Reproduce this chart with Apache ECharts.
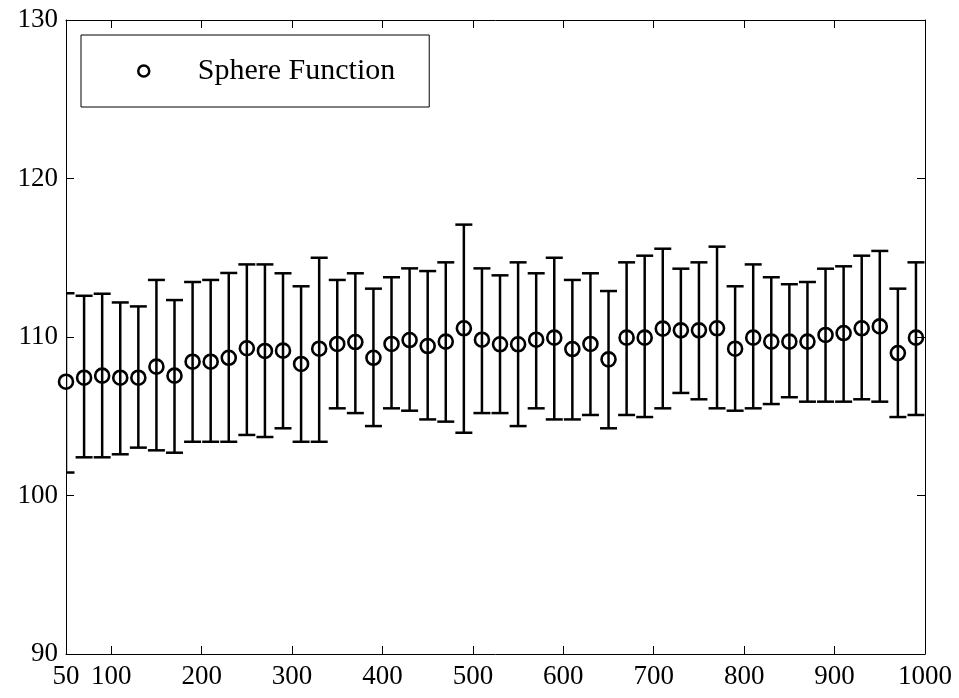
<!DOCTYPE html>
<html>
<head>
<meta charset="utf-8">
<script src="https://cdn.jsdelivr.net/npm/echarts@6/dist/echarts.min.js"></script>
<style>
	html, body { margin: 0; background: #fff; }
	#chart-container { width: 959px; height: 698px; }
</style>
</head>
<body>
<div id="chart-container"></div>
<script>
// Sphere Function error bar chart
const seriesName = 'Sphere Function';

const xValues = [50, 70, 90, 110, 130, 150, 170, 190, 210, 230,
	250, 270, 290, 310, 330, 350, 370, 390, 410, 430,
	450, 470, 490, 510, 530, 550, 570, 590, 610, 630,
	650, 670, 690, 710, 730, 750, 770, 790, 810, 830,
	850, 870, 890, 910, 930, 950, 970, 990];

const meanValues = [107.18, 107.43, 107.56, 107.43, 107.43, 108.13, 107.56, 108.44, 108.44, 108.69,
	109.29, 109.12, 109.14, 108.30, 109.26, 109.56, 109.68, 108.69, 109.56, 109.81,
	109.43, 109.71, 110.55, 109.83, 109.54, 109.54, 109.83, 109.96, 109.24, 109.56,
	108.59, 109.96, 109.96, 110.53, 110.42, 110.42, 110.55, 109.26, 109.96, 109.71,
	109.71, 109.71, 110.13, 110.25, 110.55, 110.67, 108.99, 109.96];

const upperValues = [112.76, 112.60, 112.73, 112.18, 111.93, 113.60, 112.33, 113.47, 113.60, 114.04,
	114.58, 114.58, 114.02, 113.20, 115.00, 113.60, 114.02, 113.05, 113.77, 114.33,
	114.16, 114.71, 117.09, 114.33, 113.89, 114.71, 114.02, 115.00, 113.60, 114.02,
	112.90, 114.71, 115.13, 115.57, 114.31, 114.71, 115.70, 113.20, 114.58, 113.77,
	113.33, 113.47, 114.31, 114.46, 115.13, 115.43, 113.05, 114.71];

const lowerValues = [101.45, 102.41, 102.41, 102.60, 103.02, 102.85, 102.70, 103.39, 103.39, 103.39,
	103.82, 103.69, 104.24, 103.39, 103.39, 105.50, 105.20, 104.38, 105.50, 105.35,
	104.80, 104.66, 103.96, 105.20, 105.20, 104.38, 105.50, 104.80, 104.80, 105.08,
	104.24, 105.08, 104.95, 105.50, 106.47, 106.07, 105.50, 105.35, 105.50, 105.77,
	106.20, 105.92, 105.92, 105.92, 106.07, 105.92, 104.95, 105.08];

const xTicks = [50, 100, 200, 300, 400, 500, 600, 700, 800, 900, 1000];

function initializeChart() {
	const chartDom = document.getElementById('chart-container');
	const myChart = echarts.init(chartDom);

	const fontFamily = 'Liberation Serif, Times New Roman, serif';
	const black = '#000';

	const pointData = xValues.map((x, i) => [x, meanValues[i]]);
	const barData = xValues.map((x, i) => [x, lowerValues[i], upperValues[i]]);

	function xAxisDef(position, showLabel) {
		return {
			type: 'value',
			position: position,
			min: 50,
			max: 1000,
			axisLine: { show: true, onZero: false, lineStyle: { color: black, width: 1 } },
			axisTick: { show: true, inside: true, length: 8, customValues: xTicks, lineStyle: { color: black, width: 1 } },
			axisLabel: {
				show: showLabel,
				customValues: xTicks,
				color: black,
				fontFamily: fontFamily,
				fontSize: 27,
				margin: 9,
				formatter: function (v) { return String(v); } // no thousands separator
			},
			splitLine: { show: false }
		};
	}

	function yAxisDef(position, showLabel) {
		return {
			type: 'value',
			position: position,
			min: 90,
			max: 130,
			interval: 10,
			axisLine: { show: true, onZero: false, lineStyle: { color: black, width: 1 } },
			axisTick: { show: true, inside: true, length: 8, lineStyle: { color: black, width: 1 } },
			axisLabel: {
				show: showLabel,
				color: black,
				fontFamily: fontFamily,
				fontSize: 27,
				margin: 8,
				showMinLabel: true,
				showMaxLabel: true
			},
			splitLine: { show: false }
		};
	}

	const option = {
		backgroundColor: '#fff',
		animation: false,
		grid: { left: 66, right: 34, top: 20, bottom: 44, containLabel: false },
		legend: {
			left: 81,
			top: 35,
			padding: [21, 34, 21, 56],
			itemWidth: 98,
			itemHeight: 11,
			backgroundColor: '#fff',
			borderColor: black,
			borderWidth: 1,
			borderRadius: 0,
			itemStyle: { color: 'rgba(0,0,0,0)', borderColor: black, borderWidth: 2.5 },
			textStyle: { color: black, fontFamily: fontFamily, fontSize: 30, lineHeight: 28 },
			data: [{ name: seriesName, icon: 'circle' }]
		},
		xAxis: [xAxisDef('bottom', true), xAxisDef('top', false)],
		yAxis: [yAxisDef('left', true), yAxisDef('right', false)],
		series: [
			{
				name: 'errorbars',
				type: 'custom',
				clip: true,
				data: barData,
				encode: { x: 0, y: [1, 2] },
				renderItem: function (params, api) {
					const x = api.value(0);
					const lo = api.coord([x, api.value(1)]);
					const hi = api.coord([x, api.value(2)]);
					const w = 8.5;
					const style = { stroke: black, lineWidth: 2.5 };
					return {
						type: 'group',
						children: [
							{ type: 'line', shape: { x1: lo[0], y1: lo[1], x2: hi[0], y2: hi[1] }, style: style },
							{ type: 'line', shape: { x1: lo[0] - w, y1: lo[1], x2: lo[0] + w, y2: lo[1] }, style: style },
							{ type: 'line', shape: { x1: hi[0] - w, y1: hi[1], x2: hi[0] + w, y2: hi[1] }, style: style }
						]
					};
				},
				z: 2
			},
			{
				name: seriesName,
				type: 'scatter',
				data: pointData,
				symbol: 'circle',
				symbolSize: 14,
				itemStyle: { color: 'rgba(0,0,0,0)', borderColor: black, borderWidth: 2.6, opacity: 1 },
				z: 3
			}
		]
	};

	myChart.setOption(option);
}

initializeChart();
</script>
</body>
</html>
